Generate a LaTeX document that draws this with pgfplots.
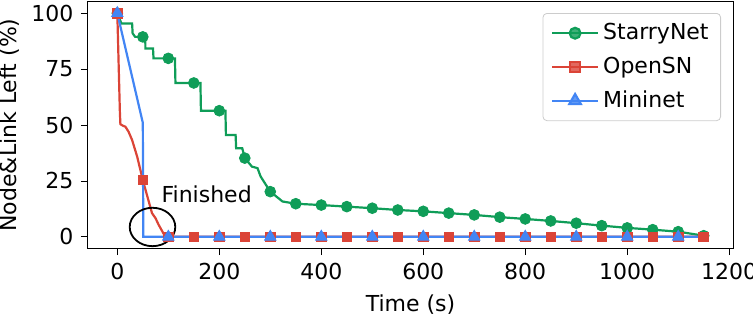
\documentclass[border=0pt]{standalone}
\usepackage{pgfplots}
\pgfplotsset{compat=1.18}
\usepackage{fontspec}
\setmainfont{DejaVu Sans}
\definecolor{sgreen}{HTML}{0F9D58}
\definecolor{sred}{HTML}{DB4437}
\definecolor{sblue}{HTML}{4285F4}
\begin{document}
\fontsize{11}{13.2}\selectfont
\begin{tikzpicture}
\begin{axis}[
  scale only axis, width=322.5pt, height=123pt,
  xmin=-57.5, xmax=1207.5, ymin=-5, ymax=105,
  xtick={0,200,400,600,800,1000,1200},
  ytick={0,25,50,75,100},
  tick align=outside, major tick length=3.5pt,
  tick style={black, line width=0.4pt},
  xtick pos=bottom, ytick pos=left,
  axis line style={line width=0.5pt},
  /pgf/number format/assume math mode=true,
  /pgf/number format/1000 sep={},
  xlabel={Time (s)}, ylabel={Node\&Link Left (\%)},
  ylabel style={yshift=-1.5pt},
  clip=false,
  legend cell align=left,
  legend style={at={(1,1)}, anchor=north east, xshift=-6pt, yshift=-5.5pt,
    rounded corners=2pt, draw=black!20, fill=white, fill opacity=0.8, text opacity=1,
    inner xsep=4pt, inner ysep=3pt, row sep=3pt},
  legend image code/.code={\draw[mark repeat=2,mark phase=2] plot coordinates {(0pt,0pt) (11.5pt,0pt) (23pt,0pt)};},
]
\addplot[sgreen, line width=1.1pt, forget plot] coordinates {
(0,100)(8,95.4)(29,95.4)(30,91)(35,89.4)(53,89.4)(55,86.5)(55,84.2)(70,84.2)(71,79.8)(113,79.8)(114,68.8)(163,68.8)(164,56.4)(212,56.4)(213,45.5)(232,45.5)(233,39.6)(245,39.6)(250,35.2)(264,31.4)(275,30.7)(281,27)(300,20.2)(324,15.8)(350,14.8)(400,14.2)(450,13.5)(500,12.8)(550,12.0)(600,11.4)(650,10.6)(700,9.8)(750,8.8)(800,8.0)(850,7.1)(900,6.1)(950,5.0)(1000,4.0)(1050,3.2)(1100,2.3)(1150,0.5)};
\addplot[sgreen, only marks, mark=*, mark size=2.7pt, forget plot] coordinates {
(0,100)(50,89.4)(100,79.8)(150,68.8)(200,56.4)(250,35.2)(300,20.2)(350,14.8)(400,14.2)(450,13.5)(500,12.8)(550,12.0)(600,11.4)(650,10.6)(700,9.8)(750,8.8)(800,8.0)(850,7.1)(900,6.1)(950,5.0)(1000,4.0)(1050,3.2)(1100,2.3)(1150,0.5)};
\addplot[sred, line width=1.1pt, forget plot] coordinates {
(0,100)(5,56)(6,50.4)(10,49.8)(16,49.2)(22,47)(29,43.3)(39,35.8)(50,25.4)(58,18.8)(68,10.6)(75,8.3)(81,5.4)(91,1.3)(94,0)(1150,0)};
\addplot[sred, only marks, mark=square*, mark size=2.4pt, forget plot] coordinates {
(0,100)(50,25.4)(100,0)(150,0)(200,0)(250,0)(300,0)(350,0)(400,0)(450,0)(500,0)(550,0)(600,0)(650,0)(700,0)(750,0)(800,0)(850,0)(900,0)(950,0)(1000,0)(1050,0)(1100,0)(1150,0)};
\addplot[sblue, line width=1.1pt, forget plot] coordinates {
(0,100)(50,51)(51,0)(1150,0)};
\addplot[sblue, only marks, mark=triangle*, mark size=3.3pt, forget plot] coordinates {
(0,100)(100,0)(200,0)(300,0)(400,0)(500,0)(600,0)(700,0)(800,0)(900,0)(1000,0)(1100,0)};
\addlegendimage{sgreen, line width=1.1pt, mark=*, mark size=2.7pt}
\addlegendimage{sred, line width=1.1pt, mark=square*, mark size=2.4pt}
\addlegendimage{sblue, line width=1.1pt, mark=triangle*, mark size=3.3pt}
\legend{StarryNet, OpenSN, Mininet}
\draw[black, line width=0.9pt] (axis cs:69,4.4) ellipse [x radius=11.4pt, y radius=9.6pt];
\node[anchor=base west, inner sep=0pt] at (axis cs:86,15.2) {Finished};
\end{axis}
\pgfresetboundingbox
\path[use as bounding box] ([xshift=-44pt,yshift=-34pt]current axis.south west) rectangle ([xshift=10pt,yshift=1pt]current axis.north east);
\end{tikzpicture}
\end{document}
